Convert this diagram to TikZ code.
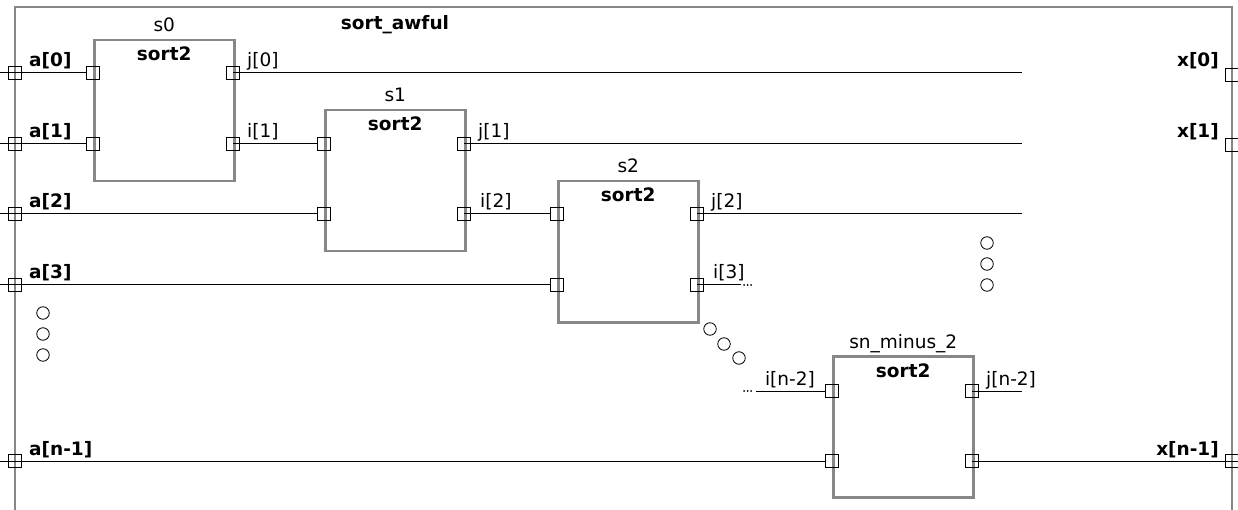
\documentclass[tikz,border=0pt]{standalone}
\usepackage{fontspec}
\setmainfont{DejaVu Sans}
\begin{document}
\begin{tikzpicture}[x=1pt,y=-1pt,
  font=\fontsize{18.5}{21}\selectfont,
  frame/.style={draw=black!47,line width=2.2pt},
  blk/.style={draw=black!47,line width=2.5pt,minimum width=140pt,minimum height=141pt,inner sep=0pt,anchor=north west},
  port/.style={draw=black,line width=0.9pt,minimum size=13.5pt,inner sep=0pt},
  wire/.style={draw=black,line width=1pt},
  lbl/.style={inner sep=0pt},
  blbl/.style={inner sep=0pt,font=\fontsize{18.5}{21}\selectfont\bfseries},
  dotc/.style={draw=black,line width=0.8pt,circle,minimum size=12.5pt,inner sep=0pt}
]
\useasboundingbox (0,0) rectangle (1238,510);
% outer frame
\draw[frame] (15,512) -- (15,7) -- (1232,7) -- (1232,512);
\node[blbl,anchor=base] (title) at (395,30) {sort\_awful};
% blocks
\node[blk] (s0) at (93,39) {};
\node[blk] (s1) at (324,109) {};
\node[blk] (s2) at (557,180) {};
\node[blk] (sn) at (832,355) {};
\foreach \b/\n in {s0/s0,s1/s1,s2/s2,sn/sn\_minus\_2}{
  \node[lbl,anchor=base] (\b name) at ([yshift=7pt]\b.north) {\n};
  \node[blbl,anchor=base] (\b type) at ([yshift=-22pt]\b.north) {sort2};
}
% block ports
\node[port] (s0a) at (93,73) {};
\node[port] (s0b) at (93,144) {};
\node[port] (s0j) at (233,73) {};
\node[port] (s0i) at (233,144) {};
\node[port] (s1a) at (324,144) {};
\node[port] (s1b) at (324,214) {};
\node[port] (s1j) at (464,144) {};
\node[port] (s1i) at (464,214) {};
\node[port] (s2a) at (557,214) {};
\node[port] (s2b) at (557,285) {};
\node[port] (s2j) at (697,214) {};
\node[port] (s2i) at (697,285) {};
\node[port] (sna) at (832,391) {};
\node[port] (snb) at (832,461) {};
\node[port] (snj) at (972,391) {};
\node[port] (sni) at (972,461) {};
% outer ports
\node[port] (a0) at (15,73) {};
\node[port] (a1) at (15,144) {};
\node[port] (a2) at (15,214) {};
\node[port] (a3) at (15,285) {};
\node[port] (an) at (15,461) {};
\node[port] (x0) at (1232,75) {};
\node[port] (x1) at (1232,145) {};
\node[port] (xn) at (1232,461) {};
% free ends
\coordinate (l0) at (0,73);
\coordinate (l1) at (0,144);
\coordinate (l2) at (0,214);
\coordinate (l3) at (0,285);
\coordinate (ln) at (0,461);
\coordinate (e0) at (1022,73);
\coordinate (e1) at (1022,144);
\coordinate (e2) at (1022,214);
\coordinate (e3) at (741,285);
\coordinate (e4) at (756,391);
\coordinate (e5) at (1022,391);
\coordinate (e6) at (1238,461);
% wires
\draw[wire] (l0) -- (s0a.west);
\draw[wire] (l1) -- (s0b.west);
\draw[wire] (l2) -- (s1b.west);
\draw[wire] (l3) -- (s2b.west);
\draw[wire] (ln) -- (snb.west);
\draw[wire] (s0j.center) -- (e0);
\draw[wire] (s0i.center) -- (s1a.west);
\draw[wire] (s1j.center) -- (e1);
\draw[wire] (s1i.center) -- (s2a.west);
\draw[wire] (s2j.center) -- (e2);
\draw[wire] (s2i.center) -- (e3);
\draw[wire] (e4) -- (sna.west);
\draw[wire] (snj.center) -- (e5);
\draw[wire] (sni.center) -- (e6);
% tiny ellipses
\foreach \x in {744,747.5,751}{
  \fill (\x,285) circle (1pt);
  \fill (\x,391) circle (1pt);
}
% outer labels
\node[blbl,anchor=base west] (la0) at (29,67) {a[0]};
\node[blbl,anchor=base west] (la1) at (29,138) {a[1]};
\node[blbl,anchor=base west] (la2) at (29,208) {a[2]};
\node[blbl,anchor=base west] (la3) at (29,279) {a[3]};
\node[blbl,anchor=base west] (lan) at (29,455) {a[n-1]};
\node[blbl,anchor=base east] (lx0) at (1219,67) {x[0]};
\node[blbl,anchor=base east] (lx1) at (1219,138) {x[1]};
\node[blbl,anchor=base east] (lxn) at (1219,455) {x[n-1]};
% port labels
\node[lbl,anchor=base west] (lj0) at (247,67) {j[0]};
\node[lbl,anchor=base west] (li1) at (247,138) {i[1]};
\node[lbl,anchor=base west] (lj1) at (478,138) {j[1]};
\node[lbl,anchor=base west] (li2) at (480,208) {i[2]};
\node[lbl,anchor=base west] (lj2) at (711,208) {j[2]};
\node[lbl,anchor=base west] (li3) at (713,279) {i[3]};
\node[lbl,anchor=base east] (lin2) at (815,385) {i[n-2]};
\node[lbl,anchor=base west] (ljn2) at (986,385) {j[n-2]};
% dots
\node[dotc] (d1) at (43,313) {};
\node[dotc] (d2) at (43,334) {};
\node[dotc] (d3) at (43,355) {};
\node[dotc] (d4) at (987,243) {};
\node[dotc] (d5) at (987,264) {};
\node[dotc] (d6) at (987,285) {};
\node[dotc] (d7) at (710,329) {};
\node[dotc] (d8) at (724,344) {};
\node[dotc] (d9) at (739,358) {};
\end{tikzpicture}
\end{document}
